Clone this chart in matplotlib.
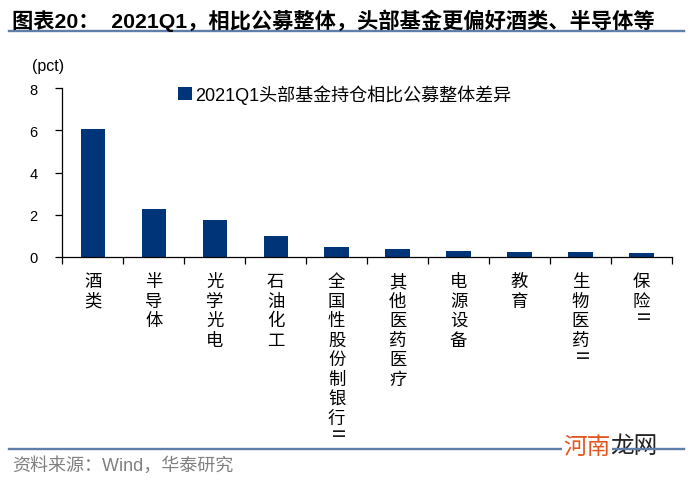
import matplotlib
matplotlib.use("Agg")
import matplotlib.pyplot as plt
from matplotlib.lines import Line2D

# ---------------- data ----------------
categories = ['酒类', '半导体', '光学光电', '石油化工', '全国性股份制银行Ⅱ',
              '其他医药医疗', '电源设备', '教育', '生物医药Ⅱ', '保险Ⅱ']
values = [6.05, 2.28, 1.74, 0.97, 0.48, 0.37, 0.29, 0.24, 0.21, 0.18]
series_name = '2021Q1头部基金持仓相比公募整体差异'
y_ticks = [0, 2, 4, 6, 8]
title = '图表20：  2021Q1，相比公募整体，头部基金更偏好酒类、半导体等'
source = '资料来源：Wind，华泰研究'
unit = '(pct)'
watermark_a = '河南'
watermark_b = '龙网'

# ---------------- style ----------------
W, H = 698, 481
BAR = '#003478'
RULE = '#5F7EAA'
CJK = ['Liberation Sans', 'Noto Sans CJK SC', 'DejaVu Sans']
plt.rcParams['font.family'] = CJK

fig = plt.figure(figsize=(W / 100, H / 100), dpi=100)

def fx(px):
    return px / W

def fy(py):
    return 1 - py / H

x0, x1, y0, y8 = 62.3, 672.0, 257.7, 89.3
ax = fig.add_axes([fx(x0), fy(y0), fx(x1 - x0), (y0 - y8) / H])

pos = list(range(len(categories)))
ax.bar(pos, values, width=0.4, color=BAR, label=series_name, zorder=2)
ax.set_xlim(-0.5, len(categories) - 0.5)
ax.set_ylim(0, 8)

for s in ('top', 'right'):
    ax.spines[s].set_visible(False)
for s in ('left', 'bottom'):
    ax.spines[s].set_linewidth(0.9)
    ax.spines[s].set_color('black')

ax.set_yticks(y_ticks)
ax.set_yticklabels([str(v) for v in y_ticks], fontsize=10.5, family='Liberation Sans')
ax.tick_params(axis='y', direction='out', length=5, width=0.9, pad=13)

# category boundary ticks (major) and labels at centres (minor)
ax.set_xticks([p - 0.5 for p in pos] + [pos[-1] + 0.5])
ax.set_xticklabels([])
ax.tick_params(axis='x', which='major', direction='out', length=5, width=0.9)
ax.set_xticks(pos, minor=True)
main_names = [c.rstrip('Ⅱ') for c in categories]
ax.set_xticklabels(['\n'.join(list(c)) for c in main_names], minor=True,
                   fontsize=12.5, family='Noto Sans CJK SC', va='top', linespacing=1.11)
ax.tick_params(axis='x', which='minor', length=0, pad=11)

fig.canvas.draw()
minor_labels = ax.get_xticklabels(minor=True)

# rotated "Ⅱ" suffix under labels that carry it
for lab, c in zip(minor_labels, categories):
    if c.endswith('Ⅱ'):
        ax.annotate('Ⅱ', xy=(0.5, 0), xycoords=lab,
                    xytext=(0, 0), textcoords='offset points',
                    ha='center', va='center', rotation=90, fontsize=12,
                    family='Noto Sans CJK SC', annotation_clip=False)

# legend
leg = ax.legend(loc='upper left', bbox_to_anchor=(fx(178), fy(85)),
                bbox_transform=fig.transFigure, frameon=False,
                handlelength=0.75, handleheight=0.75, handletextpad=0.2,
                borderpad=0, borderaxespad=0, prop={'family': CJK, 'size': 13})

# unit label
fig.text(fx(32), fy(67), unit, fontsize=11.5, family='Liberation Sans',
         ha='left', va='center')

# title and rules
fig.text(fx(12), fy(20.5), title, fontsize=15.3, fontweight='bold',
         ha='left', va='center')
fig.add_artist(Line2D([fx(9), fx(684)], [fy(32), fy(32)], color=RULE, lw=1.7))
fig.add_artist(Line2D([fx(9), fx(684)], [fy(450), fy(450)], color=RULE, lw=1.7))
fig.text(fx(12), fy(466), source, fontsize=13, color='#808080',
         ha='left', va='center')

# watermark
wa = fig.text(fx(563), fy(447), watermark_a, fontsize=17, color='#E2561F',
              family='Noto Sans CJK SC', ha='left', va='center',
              bbox=dict(facecolor='white', edgecolor='none', pad=1))
ax.annotate(watermark_b, xy=(1, 0), xycoords=wa, xytext=(0, 0),
            textcoords='offset points', ha='left', va='bottom', fontsize=17,
            color='#222222', family='Noto Sans CJK SC', annotation_clip=False,
            bbox=dict(facecolor='white', edgecolor='none', pad=1))

fig.savefig('out.png', dpi=100)
